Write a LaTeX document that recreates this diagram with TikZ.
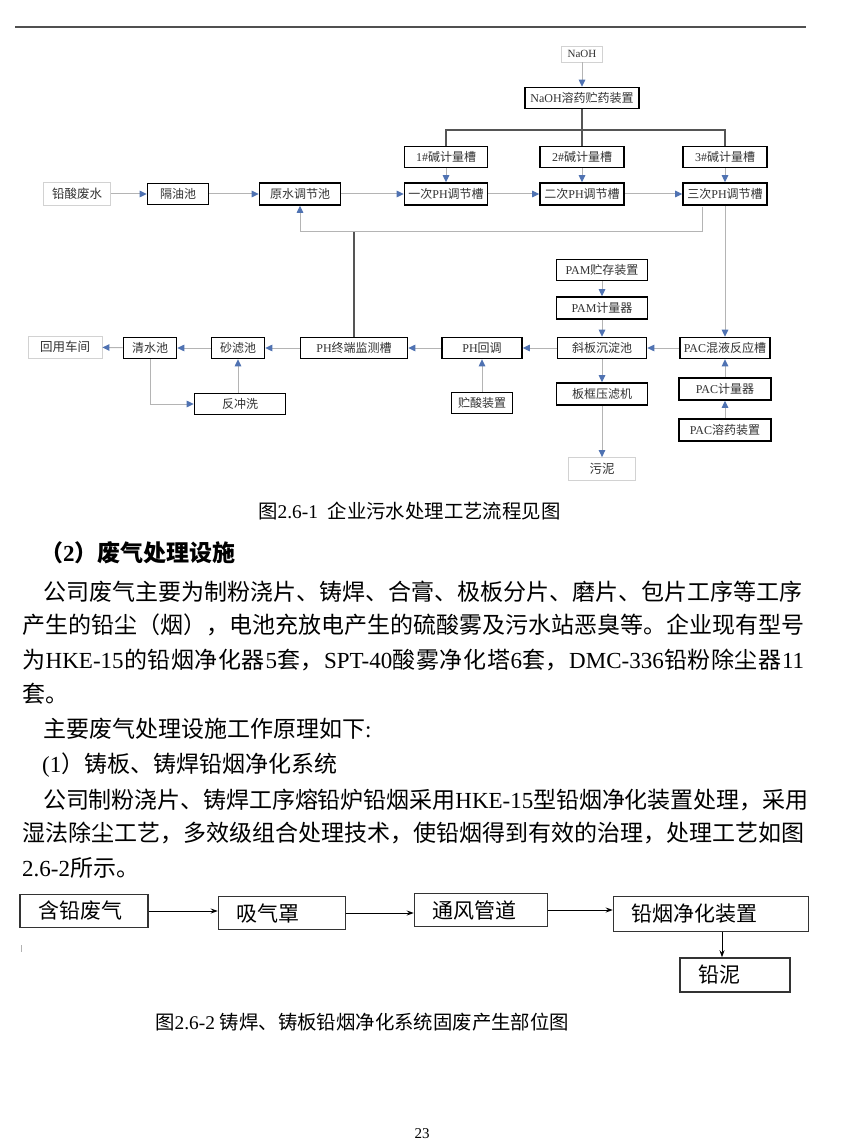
\documentclass[tikz,border=0pt]{standalone}
\usepackage{fontspec}
\setmainfont{Liberation Serif}
\newfontfamily\cjk{Noto Sans CJK SC}
\usetikzlibrary{arrows.meta,positioning}
\XeTeXlinebreaklocale "zh"
\XeTeXlinebreakskip=0pt plus 3pt minus 0.5pt
\newcommand{\en}[1]{{\rmfamily #1}}
\definecolor{flowgray}{RGB}{180,180,180}
\definecolor{linkdark}{RGB}{85,85,85}
\definecolor{tipblue}{RGB}{79,114,178}
\definecolor{boxtext}{RGB}{50,50,50}
\definecolor{rulegray}{RGB}{80,80,80}
\tikzset{
  tankbox/.style={draw=black, line width=1.6pt, inner sep=0pt, minimum height=21pt, text=boxtext, font=\cjk\fontsize{12}{14}\selectfont},
  endbox/.style={draw=gray!35, line width=0.8pt, inner sep=0pt, minimum height=22pt, text=boxtext, font=\cjk\fontsize{12.5}{14}\selectfont},
  flow/.style={draw=flowgray, line width=1pt, -{Triangle[length=7pt,width=6.5pt,color=tipblue]}},
  trunk/.style={draw=linkdark, line width=1.1pt},
  gasbox/.style={draw=black!80, line width=1.5pt, inner xsep=18pt, inner ysep=0pt, align=left, minimum height=33pt, font=\cjk\fontsize{21}{24}\selectfont},
  gasflow/.style={draw=black, line width=1pt, -{Stealth[length=7pt,width=5pt]}},
  bodyline/.style={anchor=west, inner sep=0pt, font=\cjk\fontsize{23}{28}\selectfont},
  caption/.style={anchor=west, inner sep=0pt, font=\cjk\fontsize{19.4}{22}\selectfont}
}

\begin{document}
\begin{tikzpicture}[x=1pt,y=-1pt]
  \fill[white] (0,0) rectangle (860,1147);
  \useasboundingbox (0,0) rectangle (860,1147);
  \draw[line width=2pt, rulegray] (15,27) -- (806,27);

  % wastewater treatment chart
  \node[endbox, minimum width=41pt, minimum height=16pt, font=\rmfamily\fontsize{11}{12}\selectfont] (naoh) at (582,54) {NaOH};
  \node[tankbox, minimum width=114pt] (naohdev) at (582,98) {\en{NaOH}溶药贮药装置};
  \node[tankbox, minimum width=83pt] (m1) at (446,157) {\en{1\#}碱计量槽};
  \node[tankbox, minimum width=84pt] (m2) at (582,157) {\en{2\#}碱计量槽};
  \node[tankbox, minimum width=84pt] (m3) at (725,157) {\en{3\#}碱计量槽};
  \node[endbox, minimum width=67pt, minimum height=23pt] (acidwater) at (77,194) {铅酸废水};
  \node[tankbox, minimum width=61pt] (oiltank) at (178,194) {隔油池};
  \node[tankbox, minimum width=81pt, minimum height=22pt] (equal) at (300,194) {原水调节池};
  \node[tankbox, minimum width=83pt, minimum height=22pt] (ph1) at (446,194) {一次\en{PH}调节槽};
  \node[tankbox, minimum width=84pt, minimum height=22pt] (ph2) at (582,194) {二次\en{PH}调节槽};
  \node[tankbox, minimum width=84pt, minimum height=22pt] (ph3) at (725,194) {三次\en{PH}调节槽};

  \node[tankbox, minimum width=91pt] (pamstore) at (602,270) {\en{PAM}贮存装置};
  \node[tankbox, minimum width=91pt, minimum height=22pt] (pammeter) at (602,308) {\en{PAM}计量器};
  \node[tankbox, minimum width=89pt] (settle) at (602,348) {斜板沉淀池};
  \node[tankbox, minimum width=91pt, minimum height=22pt] (press) at (602,394) {板框压滤机};
  \node[endbox, minimum width=67pt, minimum height=23pt] (sludge) at (602,469) {污泥};
  \node[tankbox, minimum width=90pt] (pacmix) at (725,348) {\en{PAC}混液反应槽};
  \node[tankbox, minimum width=92pt, minimum height=22pt] (pacmeter) at (725,389) {\en{PAC}计量器};
  \node[tankbox, minimum width=92pt, minimum height=22pt] (pacdose) at (725,430) {\en{PAC}溶药装置};
  \node[tankbox, minimum width=80pt] (phback) at (482,348) {\en{PH}回调};
  \node[tankbox, minimum width=61pt] (acidstore) at (482,403) {贮酸装置};
  \node[tankbox, minimum width=107pt] (phmon) at (354,348) {\en{PH}终端监测槽};
  \node[tankbox, minimum width=53pt] (sand) at (238,348) {砂滤池};
  \node[tankbox, minimum width=53pt] (clear) at (150,348) {清水池};
  \node[endbox, minimum width=74pt] (reuse) at (65,347) {回用车间};
  \node[tankbox, minimum width=91pt] (backwash) at (240,404) {反冲洗};

  \coordinate (split) at (582,130);
  \coordinate (retstart) at (702,207);
  \coordinate (retcorner) at (702,232);

  \draw[flow] (naoh) -- (naohdev);
  \draw[trunk] (naohdev) -- (split);
  \draw[trunk] (m1.north) |- (split) -| (m3.north);
  \draw[trunk] (split) -- (m2.north);
  \draw[flow] (m1) -- (ph1);
  \draw[flow] (m2) -- (ph2);
  \draw[flow] (m3) -- (ph3);
  \draw[flow] (acidwater) -- (oiltank);
  \draw[flow] (oiltank) -- (equal);
  \draw[flow] (equal) -- (ph1);
  \draw[flow] (ph1) -- (ph2);
  \draw[flow] (ph2) -- (ph3);
  \draw[flow] (retstart) -- (retcorner) -| (equal.south);
  \draw[trunk] (phmon.north) -- (phmon.north |- retcorner);
  \draw[flow] (ph3) -- (pacmix);
  \draw[flow] (pamstore) -- (pammeter);
  \draw[flow] (pammeter) -- (settle);
  \draw[flow] (settle) -- (press);
  \draw[flow] (press) -- (sludge);
  \draw[flow] (pacdose) -- (pacmeter);
  \draw[flow] (pacmeter) -- (pacmix);
  \draw[flow] (pacmix) -- (settle);
  \draw[flow] (settle) -- (phback);
  \draw[flow] (acidstore) -- (phback);
  \draw[flow] (phback) -- (phmon);
  \draw[flow] (phmon) -- (sand);
  \draw[flow] (sand) -- (clear);
  \draw[flow] (clear) -- (reuse);
  \draw[flow] (sand.south |- backwash.north) -- (sand.south);
  \draw[flow] (clear.south) |- (backwash.west);

  \node[caption] (cap1) at (258,511) {图\en{2.6-1\ \ }企业污水处理工艺流程见图};

  % text block
  \node[bodyline, font=\cjk\bfseries\fontsize{23}{28}\selectfont] (heading) at (40,553) {（\en{\bfseries 2}）废气处理设施};
  \node[bodyline, text width=760pt, align=justify] (para1) at (43,592) {\parfillskip=0pt\noindent 公司废气主要为制粉浇片、铸焊、合膏、极板分片、磨片、包片工序等工序};
  \node[bodyline, text width=783pt, align=justify] (para2) at (22,625) {\parfillskip=0pt\noindent 产生的铅尘（烟），电池充放电产生的硫酸雾及污水站恶臭等。企业现有型号};
  \node[bodyline] (para3) at (22,660) {\hbox to 782pt{为\hfil \en{HKE-15}\hfil 的\hfil 铅\hfil 烟\hfil 净\hfil 化\hfil 器\hfil \en{5}\hfil 套，\hfil \en{SPT-40}\hfil 酸\hfil 雾\hfil 净\hfil 化\hfil 塔\hfil \en{6}\hfil 套，\hfil \en{DMC-336}\hfil 铅\hfil 粉\hfil 除\hfil 尘\hfil 器\hfil \en{11}}};
  \node[bodyline] (para4) at (22,694) {套。};
  \node[bodyline] (para5) at (43,729) {主要废气处理设施工作原理如下\en{:}};
  \node[bodyline] (para6) at (42,765) {\en{(1}）铸板、铸焊铅烟净化系统};
  \node[bodyline, text width=765pt, align=justify] (para7) at (43,800) {\parfillskip=0pt\noindent 公司制粉浇片、铸焊工序熔铅炉铅烟采用\en{HKE-15}型铅烟净化装置处理，采用};
  \node[bodyline, text width=786pt, align=justify] (para8) at (22,833) {\parfillskip=0pt\noindent 湿法除尘工艺，多效级组合处理技术，使铅烟得到有效的治理，处理工艺如图};
  \node[bodyline] (para9) at (22,868) {\en{2.6-2}所示。};

  % lead fume chart
  \node[gasbox, text width=92pt] (leadgas) at (84,911) {含铅废气};
  \node[gasbox, text width=91pt] (hood) at (282,913) {吸气罩};
  \node[gasbox, text width=97pt] (duct) at (481,910) {通风管道};
  \node[gasbox, text width=159pt, minimum height=35pt] (purifier) at (711,914) {铅烟净化装置};
  \node[gasbox, text width=74pt, minimum height=34pt] (leadmud) at (735,975) {铅泥};
  \coordinate (mudline) at (722,0);
  \draw[gasflow] (leadgas.east) -- (leadgas.east -| hood.west);
  \draw[gasflow] (hood.east) -- (hood.east -| duct.west);
  \draw[gasflow] (duct.east) -- (duct.east -| purifier.west);
  \draw[gasflow] (purifier.south -| mudline) -- (leadmud.north -| mudline);
  \draw[gray!60, line width=1pt] (21,945) -- (21,952);

  \node[caption] (cap2) at (155,1022) {图\en{2.6-2 }铸焊、铸板铅烟净化系统固废产生部位图};
  \node[inner sep=0pt, font=\fontsize{15}{16}\selectfont] (pageno) at (422,1134) {23};
\end{tikzpicture}
\end{document}
